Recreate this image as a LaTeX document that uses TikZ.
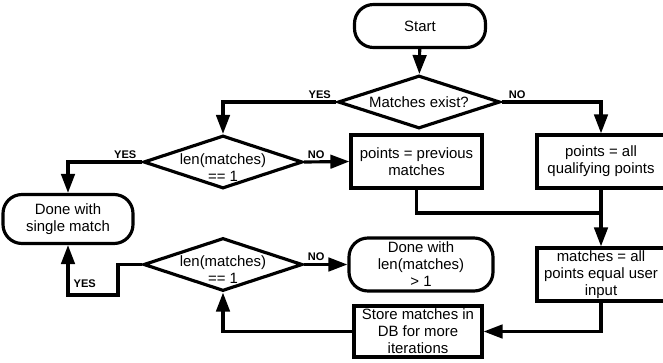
\documentclass[tikz,border=0pt]{standalone}
\usepackage{fontspec}
\setmainfont{Liberation Sans}
\usetikzlibrary{shapes.geometric,arrows.meta,positioning}
\tikzset{
  heavy/.style={line width=1.8pt},
  flowbox/.style={draw, heavy, align=center, inner xsep=2pt, inner ysep=0pt, font=\fontsize{8.5}{9.7}\selectfont},
  terminal/.style={flowbox, rounded corners=0.38cm},
  decision/.style={draw, heavy, diamond, aspect=3, inner sep=0pt, minimum width=3.18cm, minimum height=1.06cm, font=\fontsize{8.5}{9.7}\selectfont},
  answer/.style={font=\fontsize{6.3}{7}\selectfont\bfseries, inner sep=1pt},
  link/.style={heavy, -{Triangle[length=0.38cm,width=0.27cm]}}
}
\begin{document}
\begin{tikzpicture}
			\useasboundingbox (0,0) rectangle (13.26,7.24);
			\node[terminal, minimum width=2.62cm, minimum height=0.86cm] (start) at (8.4,6.72) {Start};
			\node[decision, minimum width=3.24cm] (exist) at (8.38,5.20) {Matches exist?};
			\node[decision, label={[align=center, font=\fontsize{8.5}{9.7}\selectfont, yshift=-3pt]center:len(matches)\\== 1}] (lenone) at (4.46,4.0) {};
			\node[flowbox, minimum width=2.62cm, minimum height=1.06cm] (previous) at (8.33,4.01) {points = previous\\matches};
			\node[flowbox, minimum width=2.56cm, minimum height=1.06cm] (qualify) at (12.02,4.01) {points = all\\qualifying points};
			\node[terminal, minimum width=2.6cm, minimum height=0.98cm] (single) at (1.36,2.86) {Done with\\single match};
			\node[decision, label={[align=center, font=\fontsize{8.5}{9.7}\selectfont, yshift=-3pt]center:len(matches)\\== 1}] (lentwo) at (4.46,1.95) {};
			\node[terminal, minimum width=2.88cm, minimum height=1.06cm] (many) at (8.42,1.95) {Done with\\len(matches)\\> 1};
			\node[flowbox, minimum width=2.56cm, minimum height=1.06cm] (equal) at (12.02,1.75) {matches = all\\points equal user\\input};
			\node[flowbox, minimum width=2.56cm, minimum height=1.02cm] (store) at (8.36,0.61) {Store matches in\\DB for more\\iterations};
			\coordinate (merge) at (12.02,2.98);
			\coordinate (bend) at (2.36,1.34);
			\coordinate (turn) at (1.36,1.34);
			\draw[link] (start) -- (exist);
			\draw[link] (exist.west) -| (lenone);
			\draw[link] (exist.east) -| (qualify);
			\draw[link] (lenone.east) -- (previous.west);
			\draw[link] (lenone.west) -| (single);
			\draw[heavy] (previous.south) |- (merge);
			\draw[link] (qualify) -- (equal);
			\draw[link] (equal.south) |- (store.east);
			\draw[link] (store.west) -| (lentwo.south);
			\draw[link] (lentwo.east) -- (many.west);
			\draw[link] (lentwo.west) -| (bend) -- (turn) -- (single.south);
			\node[answer, above left=1pt and 2pt of exist.west] (yesexist) {YES};
			\node[answer, above right=1pt and 3pt of exist.east] (noexist) {NO};
			\node[answer, above left=1pt and 2pt of lenone.west] (yesone) {YES};
			\node[answer, above right=1pt and 1pt of lenone.east] (noone) {NO};
			\node[answer, above right=1pt and 1pt of lentwo.east] (notwo) {NO};
			\node[answer, above right=3pt and 2pt of turn] (yestwo) {YES};
\end{tikzpicture}
\end{document}
